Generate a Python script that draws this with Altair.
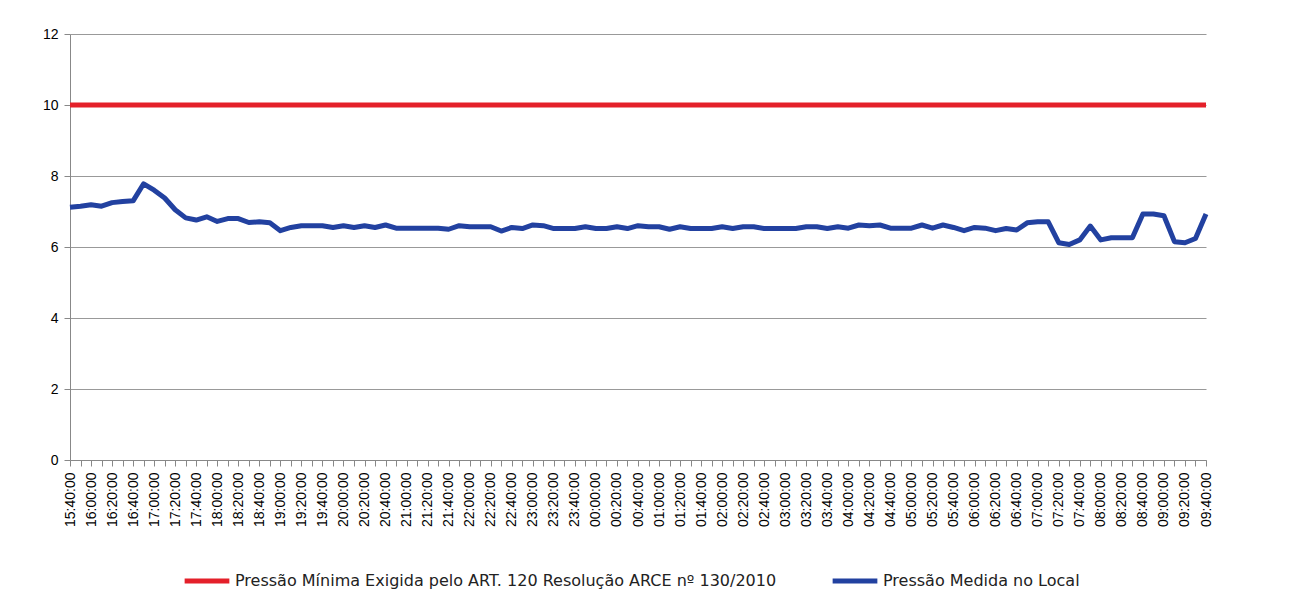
import altair as alt
import pandas as pd

# 10-minute readings from 15:40 to 09:40
start_h, start_m = 15, 40
n_points = 109
times = []
for i in range(n_points):
    tot = (start_h * 60 + start_m + 10 * i) % (24 * 60)
    times.append(f"{tot // 60:02d}:{tot % 60:02d}:00")

medida = [
    7.12, 7.15, 7.19, 7.15, 7.25, 7.28, 7.30, 7.78, 7.60, 7.38,
    7.05, 6.82, 6.76, 6.85, 6.72, 6.80, 6.80, 6.69, 6.71, 6.68,
    6.46, 6.55, 6.60, 6.60, 6.60, 6.55, 6.60, 6.55, 6.60, 6.55,
    6.62, 6.53, 6.53, 6.53, 6.53, 6.53, 6.50, 6.60, 6.57, 6.57,
    6.57, 6.45, 6.55, 6.52, 6.62, 6.60, 6.52, 6.52, 6.52, 6.57,
    6.52, 6.52, 6.57, 6.52, 6.60, 6.57, 6.57, 6.50, 6.57, 6.52,
    6.52, 6.52, 6.57, 6.52, 6.57, 6.57, 6.52, 6.52, 6.52, 6.52,
    6.57, 6.57, 6.52, 6.57, 6.53, 6.62, 6.60, 6.62, 6.53, 6.53,
    6.53, 6.62, 6.53, 6.62, 6.55, 6.46, 6.55, 6.53, 6.46, 6.52,
    6.48, 6.68, 6.71, 6.71, 6.12, 6.07, 6.20, 6.59, 6.20, 6.26,
    6.26, 6.26, 6.93, 6.93, 6.88, 6.15, 6.12, 6.24, 6.93,
]
minima = [10.0] * n_points

serie_min = "Pressão Mínima Exigida pelo ART. 120 Resolução ARCE nº 130/2010"
serie_med = "Pressão Medida no Local"

rows = []
for i, t in enumerate(times):
    rows.append({"hora": t, "ordem": i, "serie": serie_min, "valor": minima[i]})
for i, t in enumerate(times):
    rows.append({"hora": t, "ordem": i, "serie": serie_med, "valor": medida[i]})
df = pd.DataFrame(rows)

label_expr = ("indexof(['00','20','40'], substring(datum.value, 3, 5)) >= 0 "
              "? datum.label : ''")

chart = alt.Chart(df).mark_line(strokeJoin="round").encode(
    x=alt.X("hora:O", sort=times, title=None,
            scale=alt.Scale(type="point", padding=0),
            axis=alt.Axis(labelAngle=270, labelExpr=label_expr,
                          labelFont="Liberation Sans", labelFontSize=14,
                          labelColor="#000000", labelPadding=6,
                          tickColor="#888888", tickSize=6, domainColor="#888888",
                          grid=False, labelOverlap=False)),
    y=alt.Y("valor:Q", title=None,
            scale=alt.Scale(domain=[0, 12], nice=False),
            axis=alt.Axis(values=[0, 2, 4, 6, 8, 10, 12], format="d",
                          labelFont="Liberation Sans", labelFontSize=14,
                          labelColor="#000000", labelPadding=6,
                          tickColor="#888888", tickSize=6, domainColor="#888888",
                          gridColor="#999999", gridWidth=1)),
    color=alt.Color("serie:N",
                    scale=alt.Scale(domain=[serie_min, serie_med],
                                    range=["#E4202A", "#2241A0"]),
                    legend=alt.Legend(title=None, orient="none",
                                      direction="horizontal",
                                      legendX=112, legendY=522,
                                      symbolType="stroke", symbolSize=2000,
                                      symbolStrokeWidth=5,
                                      labelFont="DejaVu Sans", labelFontSize=16,
                                      labelColor="#222222", labelLimit=800,
                                      columnPadding=45, labelOffset=3)),
    strokeWidth=alt.StrokeWidth("serie:N",
                                scale=alt.Scale(domain=[serie_min, serie_med],
                                                range=[5, 5]),
                                legend=None),
    order="ordem:Q",
).properties(
    width=1136, height=426,
    autosize=alt.AutoSizeParams(type="none"),
    padding={"left": 62, "top": 26, "right": 70, "bottom": 140},
).configure_view(strokeWidth=0)

chart.save("out.html", embed_options={"renderer": "svg", "actions": False})
